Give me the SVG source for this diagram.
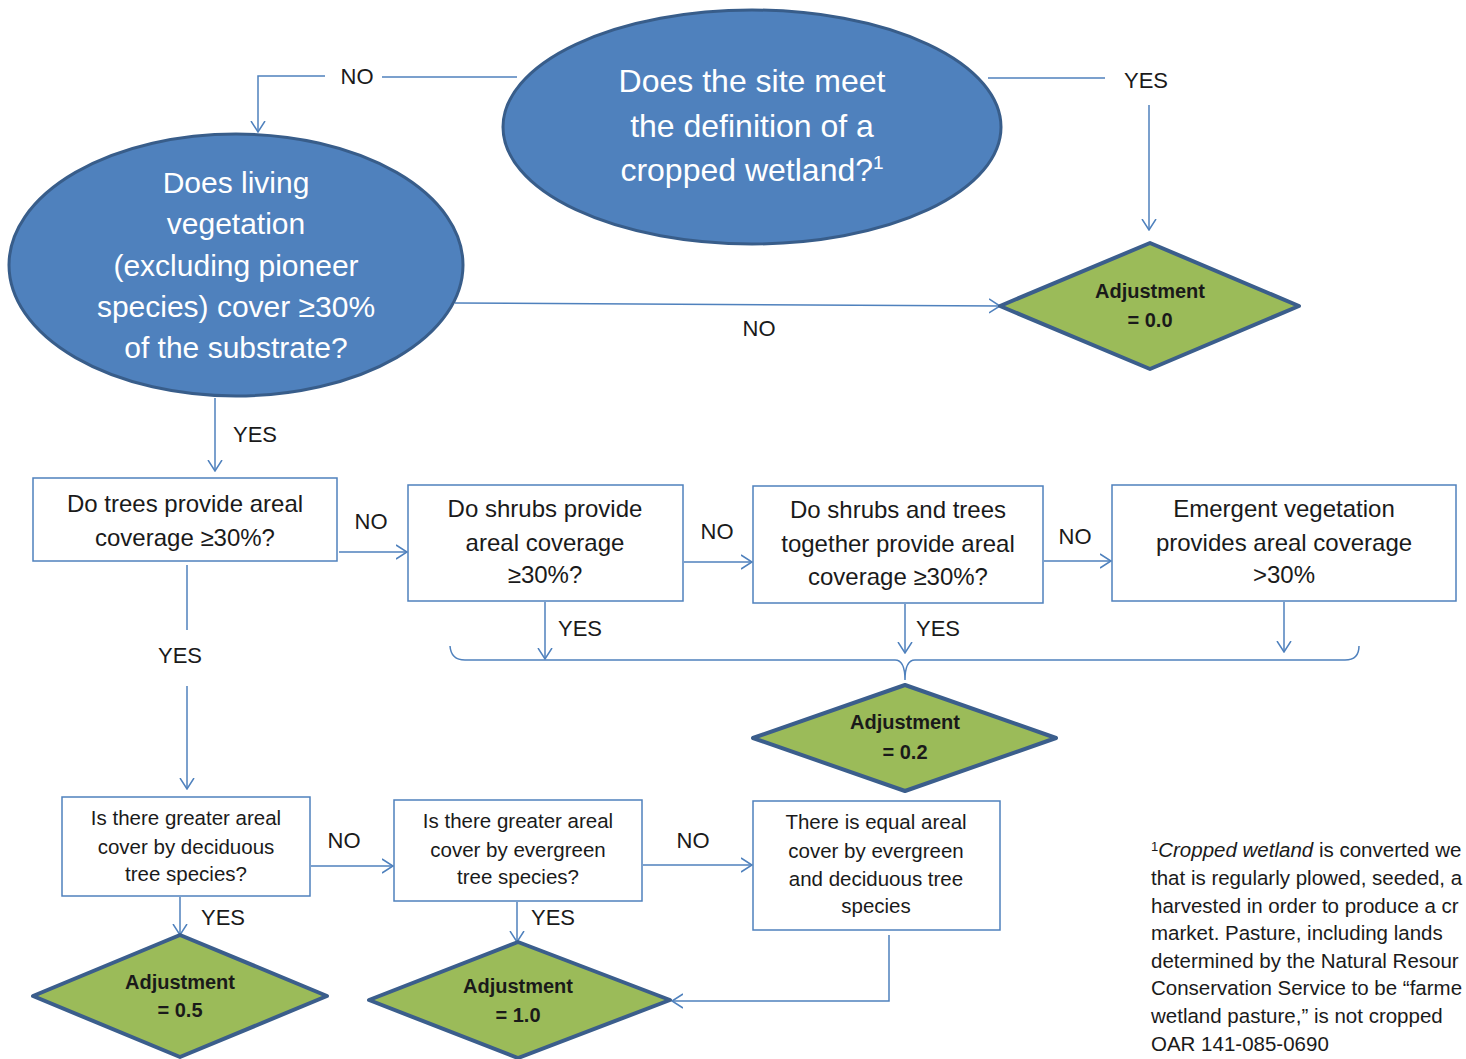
<svg xmlns="http://www.w3.org/2000/svg" width="1466" height="1059" viewBox="0 0 1466 1059">
<defs>
<marker id="arr" viewBox="0 0 12 16" markerWidth="12" markerHeight="16" refX="11" refY="8" orient="auto" markerUnits="userSpaceOnUse">
<path d="M0,1 L11,8 L0,15" fill="none" stroke="#4F81BD" stroke-width="1.5"/>
</marker>
</defs>
<style>
.ell{fill:#4F81BD;stroke:#385D8A;stroke-width:3}
.et{font-family:"Liberation Sans",Arial,sans-serif;fill:#fff;text-anchor:middle}
.box{fill:#fff;stroke:#4F81BD;stroke-width:1.5}
.bt{font-family:"Liberation Sans",Arial,sans-serif;fill:#1a1a1a;text-anchor:middle;font-size:24px}
.st{font-family:"Liberation Sans",Arial,sans-serif;fill:#1a1a1a;text-anchor:middle;font-size:20.5px}
.dia{fill:#9BBB59;stroke:#3B5E8C;stroke-width:4;stroke-linejoin:round}
.dt{font-family:"Liberation Sans",Arial,sans-serif;fill:#1a1a1a;text-anchor:middle;font-size:20px;font-weight:bold}
.lbl{font-family:"Liberation Sans",Arial,sans-serif;fill:#1a1a1a;text-anchor:middle;font-size:22px}
.ln{fill:none;stroke:#4F81BD;stroke-width:1.5}
.fn{font-family:"Liberation Sans",Arial,sans-serif;fill:#1a1a1a;font-size:20.5px}
</style>

<g id="connectors">
<path class="ln" d="M517,77 L382,77"/>
<path class="ln" d="M325,76 L258,76 L258,132" marker-end="url(#arr)"/>
<path class="ln" d="M988,78 L1105,78"/>
<path class="ln" d="M1149,105 L1149,230" marker-end="url(#arr)"/>
<path class="ln" d="M455,303 L1000,306" marker-end="url(#arr)"/>
<path class="ln" d="M215,398 L215,471" marker-end="url(#arr)"/>
<path class="ln" d="M339,552 L407,552" marker-end="url(#arr)"/>
<path class="ln" d="M684,562 L752,562" marker-end="url(#arr)"/>
<path class="ln" d="M1044,561 L1111,561" marker-end="url(#arr)"/>
<path class="ln" d="M545,602 L545,659" marker-end="url(#arr)"/>
<path class="ln" d="M905,604 L905,653" marker-end="url(#arr)"/>
<path class="ln" d="M1284,602 L1284,652" marker-end="url(#arr)"/>
<path class="ln" d="M450,646 Q451,660 465,660 L895,660 Q905,660 905,680 Q905,660 915,660 L1345,660 Q1359,660 1359,646"/>
<path class="ln" d="M187,565 L187,630"/>
<path class="ln" d="M187,686 L187,789" marker-end="url(#arr)"/>
<path class="ln" d="M311,866 L393,866" marker-end="url(#arr)"/>
<path class="ln" d="M643,865 L752,865" marker-end="url(#arr)"/>
<path class="ln" d="M180,897 L180,935" marker-end="url(#arr)"/>
<path class="ln" d="M517,902 L517,942" marker-end="url(#arr)"/>
<path class="ln" d="M889,935 L889,1001 L672,1001" marker-end="url(#arr)"/>
</g>

<g id="labels">
<text class="lbl" x="357" y="84">NO</text>
<text class="lbl" x="1146" y="88">YES</text>
<text class="lbl" x="759" y="336">NO</text>
<text class="lbl" x="255" y="442">YES</text>
<text class="lbl" x="371" y="529">NO</text>
<text class="lbl" x="717" y="539">NO</text>
<text class="lbl" x="1075" y="544">NO</text>
<text class="lbl" x="580" y="636">YES</text>
<text class="lbl" x="938" y="636">YES</text>
<text class="lbl" x="180" y="663">YES</text>
<text class="lbl" x="344" y="848">NO</text>
<text class="lbl" x="693" y="848">NO</text>
<text class="lbl" x="223" y="925">YES</text>
<text class="lbl" x="553" y="925">YES</text>
</g>

<g id="n-cropped">
<ellipse class="ell" cx="752" cy="127" rx="249" ry="117"/>
<text class="et" font-size="32" x="752" y="92">Does the site meet</text>
<text class="et" font-size="32" x="752" y="137">the definition of a</text>
<text class="et" font-size="32" x="752" y="181">cropped wetland?<tspan font-size="19" dy="-12">1</tspan></text>
</g>

<g id="n-living">
<ellipse class="ell" cx="236" cy="265" rx="227" ry="131"/>
<text class="et" font-size="30" x="236" y="193">Does living</text>
<text class="et" font-size="30" x="236" y="234">vegetation</text>
<text class="et" font-size="30" x="236" y="276">(excluding pioneer</text>
<text class="et" font-size="30" x="236" y="317">species) cover ≥30%</text>
<text class="et" font-size="30" x="236" y="358">of the substrate?</text>
</g>

<g id="n-adj00">
<polygon class="dia" points="1000,306 1150,243 1299,306 1150,369"/>
<text class="dt" x="1150" y="298">Adjustment</text>
<text class="dt" x="1150" y="327">= 0.0</text>
</g>

<g id="n-trees">
<rect class="box" x="33" y="478" width="304" height="83"/>
<text class="bt" x="185" y="512">Do trees provide areal</text>
<text class="bt" x="185" y="546">coverage ≥30%?</text>
</g>

<g id="n-shrubs">
<rect class="box" x="408" y="485" width="275" height="116"/>
<text class="bt" x="545" y="517">Do shrubs provide</text>
<text class="bt" x="545" y="551">areal coverage</text>
<text class="bt" x="545" y="583">≥30%?</text>
</g>

<g id="n-together">
<rect class="box" x="753" y="486" width="290" height="117"/>
<text class="bt" x="898" y="518">Do shrubs and  trees</text>
<text class="bt" x="898" y="552">together provide areal</text>
<text class="bt" x="898" y="585">coverage ≥30%?</text>
</g>

<g id="n-emergent">
<rect class="box" x="1112" y="485" width="344" height="116"/>
<text class="bt" x="1284" y="517">Emergent vegetation</text>
<text class="bt" x="1284" y="551">provides areal coverage</text>
<text class="bt" x="1284" y="583">&gt;30%</text>
</g>

<g id="n-adj02">
<polygon class="dia" points="753,738 905,685 1056,738 905,791"/>
<text class="dt" x="905" y="729">Adjustment</text>
<text class="dt" x="905" y="759">= 0.2</text>
</g>

<g id="n-deciduous">
<rect class="box" x="62" y="797" width="248" height="99"/>
<text class="st" x="186" y="825">Is there greater areal</text>
<text class="st" x="186" y="854">cover by deciduous</text>
<text class="st" x="186" y="881">tree species?</text>
</g>

<g id="n-evergreen">
<rect class="box" x="394" y="800" width="248" height="101"/>
<text class="st" x="518" y="828">Is there greater areal</text>
<text class="st" x="518" y="857">cover by evergreen</text>
<text class="st" x="518" y="884">tree species?</text>
</g>

<g id="n-equal">
<rect class="box" x="753" y="801" width="247" height="129"/>
<text class="st" x="876" y="829">There is equal areal</text>
<text class="st" x="876" y="858">cover by evergreen</text>
<text class="st" x="876" y="886">and deciduous  tree</text>
<text class="st" x="876" y="913">species</text>
</g>

<g id="n-adj05">
<polygon class="dia" points="33,996 180,935 327,996 180,1057"/>
<text class="dt" x="180" y="989">Adjustment</text>
<text class="dt" x="180" y="1017">= 0.5</text>
</g>

<g id="n-adj10">
<polygon class="dia" points="369,1000 518,942 670,1000 518,1058"/>
<text class="dt" x="518" y="993">Adjustment</text>
<text class="dt" x="518" y="1022">= 1.0</text>
</g>

<g id="footnote">
<text class="fn" x="1151" y="857"><tspan font-size="13" dy="-6">1</tspan><tspan dy="6" font-style="italic">Cropped wetland</tspan> is converted we</text>
<text class="fn" x="1151" y="885">that is regularly plowed, seeded, a</text>
<text class="fn" x="1151" y="913">harvested in order to produce a cr</text>
<text class="fn" x="1151" y="940">market. Pasture, including lands</text>
<text class="fn" x="1151" y="968">determined by the Natural Resour</text>
<text class="fn" x="1151" y="995">Conservation Service to be “farme</text>
<text class="fn" x="1151" y="1023">wetland pasture,” is not cropped</text>
<text class="fn" x="1151" y="1051">OAR 141-085-0690</text>
</g>
</svg>
